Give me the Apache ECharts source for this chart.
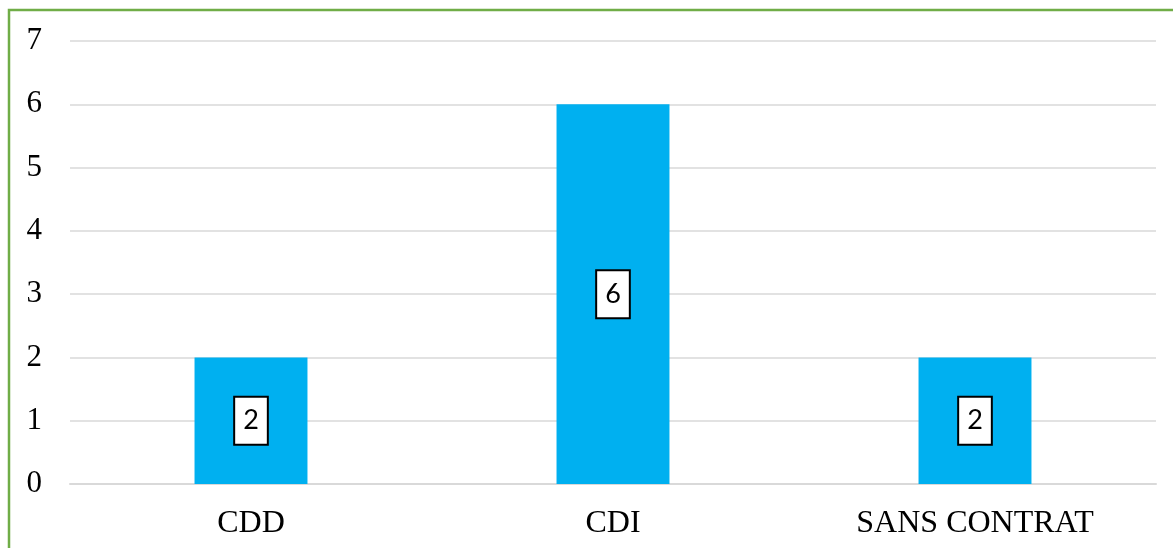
<!DOCTYPE html>
<html>
<head>
<meta charset="utf-8">
<script src="https://cdn.jsdelivr.net/npm/echarts@6/dist/echarts.min.js"></script>
<style>
html,body{margin:0;padding:0;background:#fff;}
#c{width:1173px;height:548px;}
</style>
</head>
<body>
<div id="c"></div>
<script>
const categories = ['CDD', 'CDI', 'SANS CONTRAT'];
const values = [2, 6, 2];
const yTicks = [0, 1, 2, 3, 4, 5, 6, 7];

const chart = echarts.init(document.getElementById('c'), null, {renderer: 'canvas'});
chart.setOption({
  animation: false,
  backgroundColor: '#fff',
  graphic: [{
    type: 'rect',
    shape: {x: 9, y: 10, width: 1300, height: 700},
    style: {fill: 'none', stroke: '#70AD47', lineWidth: 2.5},
    silent: true
  }],
  grid: {left: 70, right: 17, top: 41, bottom: 64},
  xAxis: {
    type: 'category',
    data: categories,
    axisLine: {show: true, lineStyle: {color: '#d9d9d9', width: 2}},
    axisTick: {show: false},
    axisLabel: {color: '#000', fontFamily: 'Liberation Serif', fontSize: 32, margin: 24}
  },
  yAxis: {
    type: 'value',
    min: yTicks[0],
    max: yTicks[yTicks.length - 1],
    interval: 1,
    axisLine: {show: false},
    axisTick: {show: false},
    splitLine: {lineStyle: {color: '#d9d9d9', width: 1.5}},
    axisLabel: {color: '#000', fontFamily: 'Liberation Serif', fontSize: 31, margin: 28}
  },
  series: [{
    type: 'bar',
    data: values,
    barWidth: '31.2%',
    itemStyle: {color: '#00B0F0'},
    label: {
      show: true,
      position: 'inside',
      color: '#000',
      fontFamily: 'Lato',
      fontSize: 27,
      lineHeight: 26,
      backgroundColor: '#fff',
      borderColor: '#000',
      borderWidth: 2,
      padding: [10, 8]
    }
  }]
});
</script>
</body>
</html>
